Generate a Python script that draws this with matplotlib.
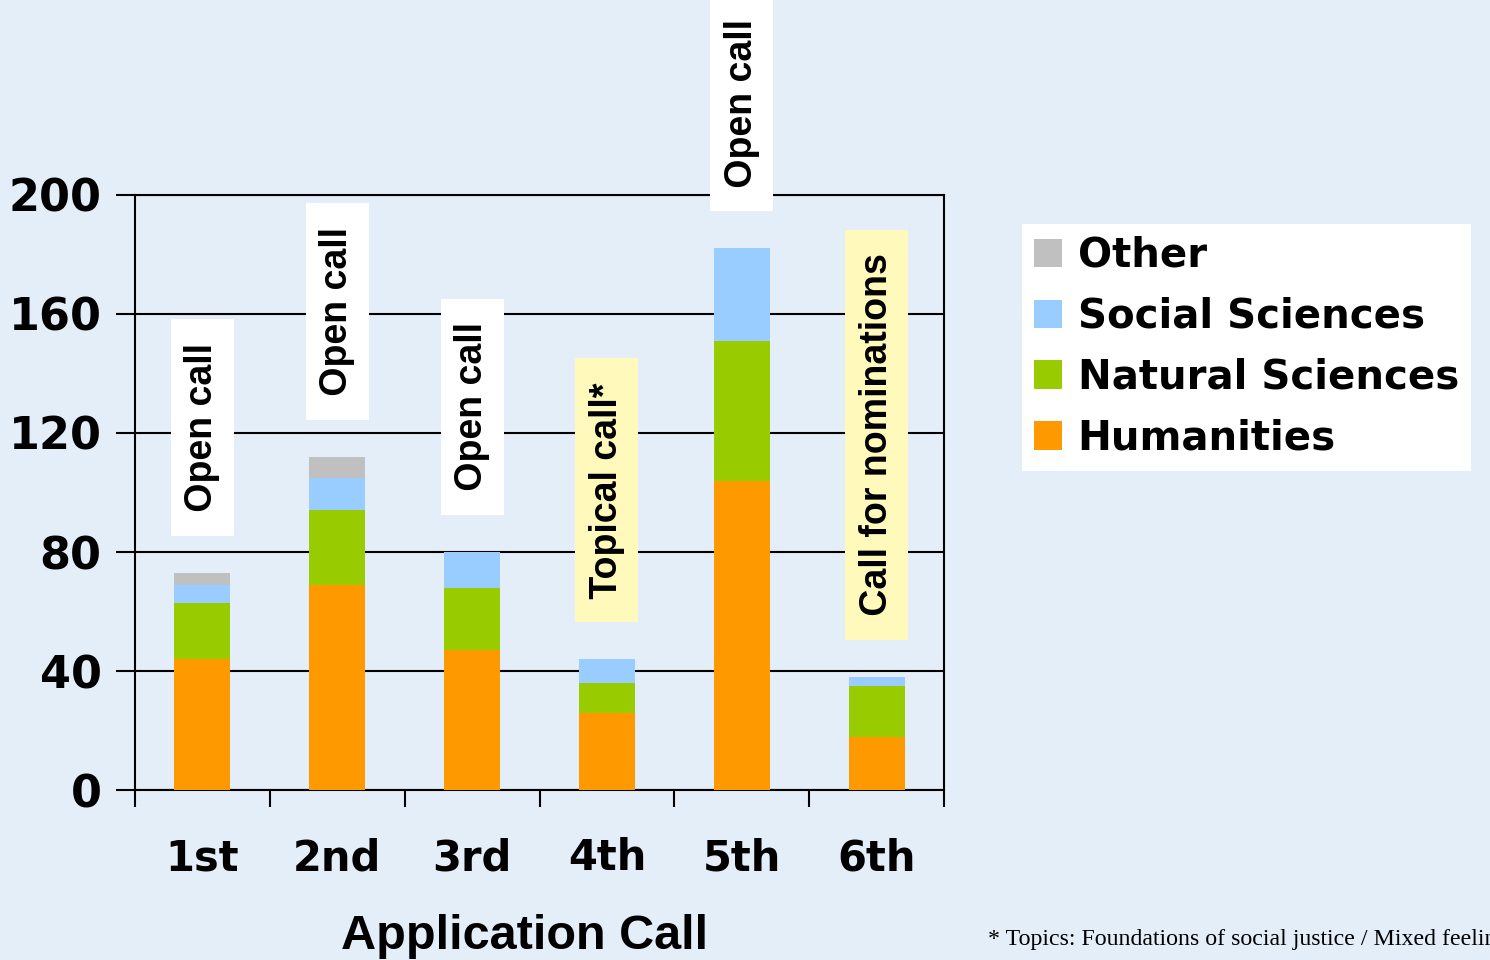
"""
Applications per call, stacked by discipline
"""

import numpy as np
import matplotlib.pyplot as plt
from matplotlib.patches import Patch

calls = ['1st', '2nd', '3rd', '4th', '5th', '6th']
humanities = [44, 69, 47, 26, 104, 18]
natural = [19, 25, 21, 10, 47, 17]
social = [6, 11, 12, 8, 31, 3]
other = [4, 7, 0, 0, 0, 0]
call_types = ['Open call', 'Open call', 'Open call', 'Topical call*',
              'Open call', 'Call for nominations']
highlight = [False, False, False, True, False, True]

BG = '#E4EEF9'
colors = {
    'Humanities': '#FF9900',
    'Natural Sciences': '#99CC00',
    'Social Sciences': '#99CCFF',
    'Other': '#C0C0C0',
}

fig = plt.figure(figsize=(14.9, 9.6), dpi=100, facecolor=BG)
ax = fig.add_axes([0.0906, 0.177, 0.543, 0.62])
ax.set_facecolor(BG)

x = np.arange(len(calls))
width = 0.415
bottom = np.zeros(len(calls))
series = [('Humanities', humanities), ('Natural Sciences', natural),
          ('Social Sciences', social), ('Other', other)]
for name, vals in series:
    vals = np.array(vals, dtype=float)
    ax.bar(x, vals, width, bottom=bottom, color=colors[name],
           edgecolor='none', zorder=3)
    bottom += vals

# call type labels above each bar (spaces stretch the box along the text)
for i, (label, hl) in enumerate(zip(call_types, highlight)):
    box = '#FFFABB' if hl else 'white'
    ax.text(x[i], bottom[i] + 17, ' ' + label + ' ', rotation=90,
            ha='center', va='bottom',
            fontsize=27, fontweight='bold', family='Liberation Sans',
            bbox=dict(boxstyle='square,pad=0.36', fc=box, ec='none'),
            zorder=5, clip_on=False)

ax.set_xlim(-0.5, 5.5)
ax.set_ylim(0, 200)
ax.set_yticks(np.arange(0, 201, 40))
ax.yaxis.grid(True, color='black', linewidth=1.5, zorder=1)
ax.set_axisbelow(True)

ax.set_xticks(x)
ax.set_xticklabels(calls)
ax.set_xticks(np.arange(-0.5, 6.0, 1.0), minor=True)
ax.tick_params(axis='x', which='major', length=0, pad=34)
ax.tick_params(axis='x', which='minor', length=12, width=1.5, direction='out')
ax.tick_params(axis='y', length=14, width=1.5, direction='out', pad=10)
for lab in ax.get_xticklabels():
    lab.set_fontsize(30)
    lab.set_fontweight('bold')
    lab.set_family('DejaVu Sans')
for lab in ax.get_yticklabels():
    lab.set_fontsize(32)
    lab.set_fontweight('bold')
    lab.set_family('DejaVu Sans')

for side in ['left', 'bottom', 'right', 'top']:
    ax.spines[side].set_linewidth(1.5)
    ax.spines[side].set_color('black')

# axis title sits right at the bottom edge, as in the original slide
fig.text(0.3523, 0.0115, 'Application Call', fontsize=35, fontweight='bold',
         family='Liberation Sans', ha='center', va='baseline')

handles = [Patch(facecolor=colors[n], edgecolor='none', label=n)
           for n in ['Other', 'Social Sciences', 'Natural Sciences', 'Humanities']]
leg = fig.legend(handles=handles, loc='upper left', bbox_to_anchor=(0.686, 0.767),
                 borderaxespad=0, frameon=True, fancybox=False, edgecolor='none',
                 facecolor='white', framealpha=1, handlelength=0.7, handleheight=0.7,
                 handletextpad=0.38, labelspacing=0.52, borderpad=0.3,
                 prop={'family': 'DejaVu Sans', 'weight': 'bold', 'size': 29})

fig.text(0.663, 0.0156, '* Topics: Foundations of social justice / Mixed feelings',
         fontsize=17.2, family='Liberation Serif', ha='left', va='baseline')

plt.savefig('out.png', dpi=100, facecolor=BG)
